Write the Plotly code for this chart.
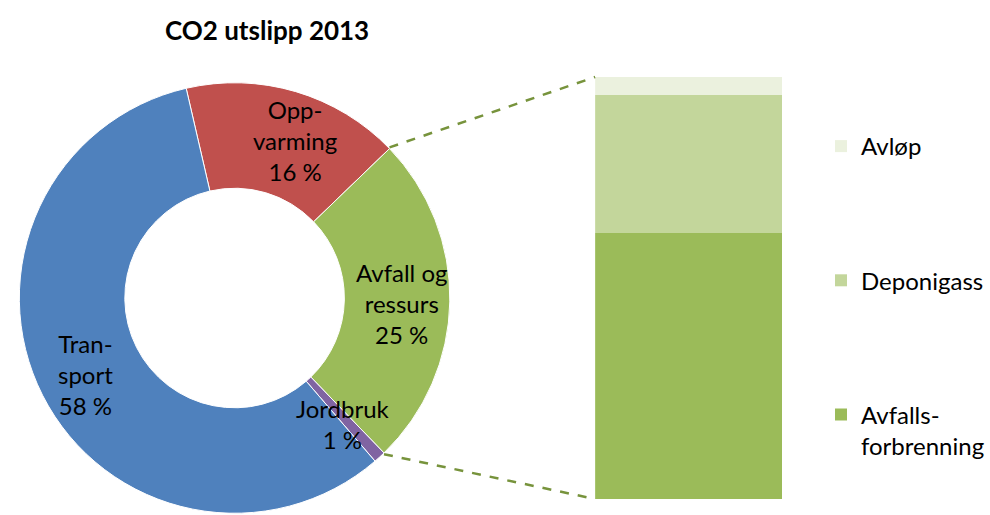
import math
import plotly.graph_objects as go

# ---- data ----
pie_labels = ["Oppvarming", "Avfall og ressurs", "Jordbruk", "Transport"]
pie_display = ["Opp-<br>varming", "Avfall og<br>ressurs", "Jordbruk", "Tran-<br>sport"]
pie_values = [16.4, 25.0, 0.9, 57.7]
pie_colors = ["#C0504D", "#9BBB59", "#8064A2", "#4F81BD"]

bar_labels = ["Avfalls-<br>forbrenning", "Deponigass", "Avløp"]
bar_values = [63.1, 32.6, 4.3]
bar_colors = ["#9BBB59", "#C3D69B", "#EBF1DE"]

title_text = "CO2 utslipp 2013"

W, H = 990, 515
FONT = "Lato, 'Open Sans', sans-serif"
FS = 24

total = sum(pie_values)
pct_text = [f"{round(v / total * 100)} %" for v in pie_values]
slice_text = [f"{d}<br>{p}" for d, p in zip(pie_display, pct_text)]

# label placement (pixel centres of each slice's text block)
label_pos = {
    "Oppvarming": (297, 140),
    "Avfall og ressurs": (405, 303),
    "Jordbruk": (346, 424),
    "Transport": (86, 374),
}

rotation = -13
pie_dom_x = [(236.5 - 217) / W, (236.5 + 217) / W]
pie_dom_y = [0.0, 434 / H]

fig = go.Figure()
fig.add_trace(go.Pie(
    labels=pie_labels, values=pie_values, text=slice_text,
    textinfo="none",
    sort=False, direction="clockwise", rotation=rotation, hole=0.51,
    marker=dict(colors=pie_colors, line=dict(color="white", width=1)),
    domain=dict(x=pie_dom_x, y=pie_dom_y), showlegend=False,
    hoverinfo="label+percent",
))

n = len(bar_labels)
for i, (lab, val, col) in enumerate(zip(bar_labels, bar_values, bar_colors)):
    fig.add_trace(go.Bar(
        x=[0], y=[val], name=lab, marker=dict(color=col, line=dict(width=0)),
        legendgroup=lab, legendrank=n - i, xaxis="x", yaxis="y",
    ))

bar_dom_x = [600 / W, 789 / W]
bar_dom_y = [16 / H, 438 / H]

# connector lines from donut boundaries to bar corners
cx = (pie_dom_x[0] + pie_dom_x[1]) / 2 * W
cy = (pie_dom_y[0] + pie_dom_y[1]) / 2 * H
R = min((pie_dom_x[1] - pie_dom_x[0]) * W, (pie_dom_y[1] - pie_dom_y[0]) * H) / 2
idx = pie_labels.index("Avfall og ressurs")
a0 = rotation + 360 * sum(pie_values[:idx]) / total
a1 = a0 + 360 * pie_values[idx] / total
shapes = []
for ang, by in [(a0, bar_dom_y[1]), (a1, bar_dom_y[0])]:
    px = (cx + R * math.sin(math.radians(ang))) / W
    py = (cy + R * math.cos(math.radians(ang))) / H
    shapes.append(dict(type="line", xref="paper", yref="paper",
                       x0=px, y0=py, x1=bar_dom_x[0], y1=by,
                       line=dict(color="#77933C", width=2.5, dash="dash")))

annotations = [
    dict(text=f"<b>{title_text}</b>", x=269 / W, y=1 - 30 / H, xref="paper", yref="paper",
         xanchor="center", yanchor="middle", showarrow=False,
         font=dict(family=FONT, size=26, color="black")),
]
for lab, txt in zip(pie_labels, slice_text):
    px, py = label_pos[lab]
    annotations.append(dict(
        text=txt, x=px / W, y=1 - py / H, xref="paper", yref="paper",
        xanchor="center", yanchor="middle", align="center", showarrow=False,
        font=dict(family=FONT, size=FS, color="black")))

fig.update_layout(
    width=W, height=H,
    margin=dict(l=0, r=0, t=0, b=0),
    paper_bgcolor="white", plot_bgcolor="white",
    barmode="stack", bargap=0,
    xaxis=dict(domain=bar_dom_x, range=[-0.5, 0.5], visible=False, fixedrange=True),
    yaxis=dict(domain=bar_dom_y, range=[0, 100], visible=False, fixedrange=True),
    shapes=shapes,
    legend=dict(x=828 / W, y=1 - 124 / H, xanchor="left", yanchor="top",
                font=dict(family=FONT, size=FS, color="black"),
                traceorder="grouped",
                tracegroupgap=100, valign="top", itemwidth=30,
                bgcolor="rgba(0,0,0,0)"),
    annotations=annotations,
    font=dict(family=FONT),
)

fig.write_html("out.html", config={"displayModeBar": False},
               post_script="document.body.style.margin='0';document.body.style.padding='0';")
